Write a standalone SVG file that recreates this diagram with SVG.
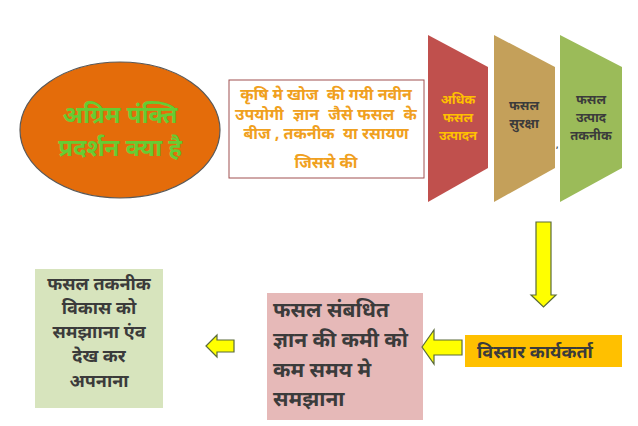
<svg xmlns="http://www.w3.org/2000/svg" width="638" height="426" viewBox="0 0 638 426">
<defs>
<style>
text{font-family:"Noto Sans Devanagari","Lohit Devanagari","Noto Sans","Liberation Sans",sans-serif;white-space:pre;font-weight:bold;}
.c{text-anchor:middle;}
.dark{fill:#3b3b3b;}
.arr{fill:#FFFF00;stroke:#5b6b3a;stroke-width:1.2;stroke-linejoin:miter;}
</style>
</defs>
<rect width="638" height="426" fill="#ffffff"/>
<g id="ellipse-node">
<ellipse cx="120" cy="130" rx="100" ry="68" fill="#E46C0A" stroke="#595959" stroke-width="1.2"/>
<text class="c" x="120" y="123" font-size="24" fill="#66CC33">अग्रिम पंक्ति</text>
<text class="c" x="120" y="156" font-size="24" fill="#66CC33">प्रदर्शन क्या है</text>
</g>
<g id="definition-box">
<rect x="229" y="80" width="195" height="98" fill="#ffffff" stroke="#A05050" stroke-width="1"/>
<g class="c" font-size="16" fill="#F0A020">
<text x="326" y="100">कृषि मे खोज  की गयी नवीन</text>
<text x="326" y="120" word-spacing="0.5">उपयोगी  ज्ञान  जैसे फसल  के</text>
<text x="326" y="139">बीज , तकनीक  या रसायण</text>
<text x="326" y="168">जिससे की</text>
</g>
</g>
<g id="panel-adhik">
<polygon points="428,35 488,67 488,168 428,202" fill="#C0504D"/>
<g class="c" font-size="13" fill="#FFC000">
<text x="458" y="104">अधिक</text>
<text x="458" y="122">फसल</text>
<text x="458" y="140">उत्पादन</text>
</g>
</g>
<g id="panel-suraksha">
<polygon points="494,35 555,67 555,168 494,202" fill="#C4A05A"/>
<g class="c dark" font-size="13">
<text x="524" y="110">फसल</text>
<text x="524" y="128">सुरक्षा</text>
</g>
<text x="556" y="148" font-size="8" class="dark">,</text>
</g>
<g id="panel-takneek">
<polygon points="560,35 622,67 622,168 560,202" fill="#9BBB59"/>
<g class="c dark" font-size="13">
<text x="591" y="104">फसल</text>
<text x="591" y="122">उत्पाद</text>
<text x="591" y="140">तकनीक</text>
</g>
</g>
<g id="vistaar-node">
<rect x="465" y="335" width="157" height="32" fill="#FFC000"/>
<text x="477" y="358" font-size="18" class="dark">विस्तार कार्यकर्ता</text>
</g>
<g id="pink-node">
<rect x="267" y="293" width="156" height="127" fill="#E6B9B8"/>
<g font-size="21" class="dark">
<text x="273" y="317">फसल संबधित</text>
<text x="273" y="347">ज्ञान की कमी को</text>
<text x="273" y="377">कम समय मे</text>
<text x="273" y="406">समझाना</text>
</g>
</g>
<g id="green-node">
<rect x="35" y="269" width="128" height="139" fill="#D7E4BD"/>
<g class="c dark" font-size="18">
<text x="99" y="290">फसल तकनीक</text>
<text x="99" y="314">विकास को</text>
<text x="99" y="338">समझााना एंव</text>
<text x="99" y="362">देख कर</text>
<text x="99" y="387">अपनाना</text>
</g>
</g>
<g id="connectors">
<polygon class="arr" points="536,222 551,222 551,295 556,295 543.5,307 531,295 536,295"/>
<polygon class="arr" points="422,347 434,330 434,340 462,340 462,355 434,355 434,364"/>
<polygon class="arr" points="206,346 217,335 217,340 234,340 234,352 217,352 217,357"/>
</g>
</svg>
